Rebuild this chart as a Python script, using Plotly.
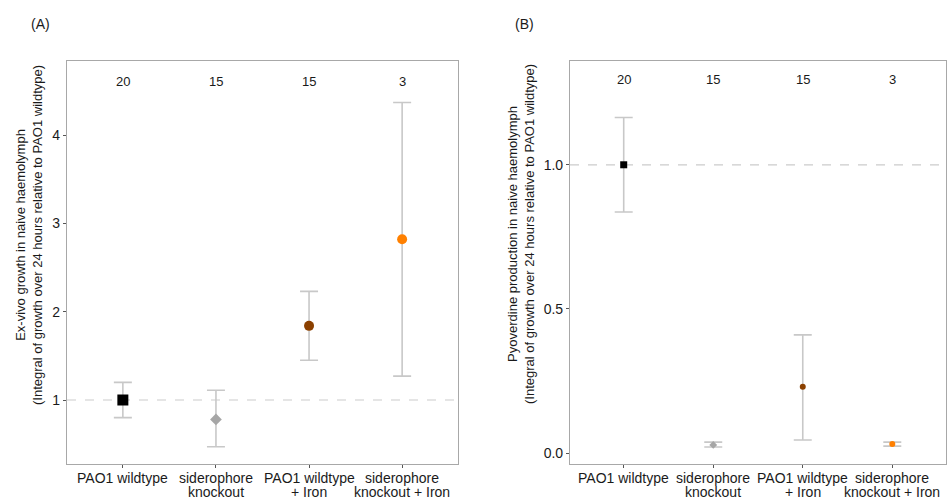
import plotly.graph_objects as go

# ---------------- data ----------------
categories = ["PAO1 wildtype", "siderophore<br>knockout", "PAO1 wildtype<br>+ Iron", "siderophore<br>knockout + Iron"]
counts = ["20", "15", "15", "3"]

growth_mean = [1.00, 0.78, 1.84, 2.82]
growth_low = [0.80, 0.47, 1.45, 1.27]
growth_high = [1.20, 1.11, 2.23, 4.37]

pyo_mean = [1.00, 0.028, 0.23, 0.031]
pyo_low = [0.836, 0.021, 0.045, 0.024]
pyo_high = [1.164, 0.038, 0.41, 0.038]

colors = ["#000000", "#a6a6a6", "#8b4000", "#ff8000"]
symbols = ["square", "diamond", "circle", "circle"]
sizes_a = [11, 9, 10, 10]
sizes_b = [7, 6, 6, 6]

W, H = 948, 498
FONT = "Liberation Sans, Arial, sans-serif"
ERR_COLOR = "#c8c8c8"

fig = go.Figure()

def add_panel(fig, means, lows, highs, sizes, xa, ya):
    for i in range(len(categories)):
        fig.add_trace(go.Scatter(
            x=[i], y=[means[i]], mode="markers",
            marker=dict(color=colors[i], symbol=symbols[i], size=sizes[i], line=dict(width=0)),
            error_y=dict(type="data", symmetric=False,
                         array=[highs[i] - means[i]], arrayminus=[means[i] - lows[i]],
                         color=ERR_COLOR, thickness=1.6, width=9),
            xaxis=xa, yaxis=ya, showlegend=False, hoverinfo="y"))

add_panel(fig, growth_mean, growth_low, growth_high, sizes_a, "x", "y")
add_panel(fig, pyo_mean, pyo_low, pyo_high, sizes_b, "x2", "y2")

# pixel geometry
a_left, a_right = 67, 458
b_left, b_right = 570, 946
top, bottom = 61, 464

def px(x):
    return x / W

def py(y):
    return (H - y) / H

axis_common = dict(showline=True, linecolor="#a8a8a8", linewidth=1.2, mirror=True,
                   showgrid=False, zeroline=False, ticks="outside", ticklen=3,
                   tickcolor="#555555", tickwidth=1, automargin=False, tickangle=0,
                   tickfont=dict(family=FONT, size=14, color="#1a1a1a"))

fig.update_layout(
    width=W, height=H, margin=dict(l=0, r=0, t=0, b=0),
    plot_bgcolor="white", paper_bgcolor="white",
    font=dict(family=FONT, color="#1a1a1a"),
    xaxis=dict(domain=[px(a_left), px(a_right)], range=[-0.6, 3.6], showticklabels=False,
               tickvals=[0, 1, 2, 3], anchor="y", **axis_common),
    yaxis=dict(domain=[py(bottom), py(top)], range=[0.275, 4.84],
               tickvals=[1, 2, 3, 4], ticktext=["1", "2", "3", "4"], anchor="x", **axis_common),
    xaxis2=dict(domain=[px(b_left), px(b_right)], range=[-0.6, 3.6], showticklabels=False,
                tickvals=[0, 1, 2, 3], anchor="y2", **axis_common),
    yaxis2=dict(domain=[py(bottom), py(top)], range=[-0.038, 1.36],
                tickvals=[0, 0.5, 1.0], ticktext=["0.0", "0.5", "1.0"], anchor="x2", **axis_common),
)

# x tick labels (tight line spacing as in the reference)
for xa in ["x", "x2"]:
    for i, cat in enumerate(categories):
        for j, line in enumerate(cat.split("<br>")):
            fig.add_annotation(x=i, y=py(478 + 14 * j), xref=xa, yref="paper", text=line,
                               showarrow=False, xanchor="center", yanchor="middle",
                               font=dict(family=FONT, size=14, color="#1a1a1a"))

# dashed reference lines
fig.add_shape(type="line", xref="x domain", yref="y", x0=0, x1=1, y0=1, y1=1,
              line=dict(color="#cccccc", width=1.2, dash="dash"), layer="below")
fig.add_shape(type="line", xref="x2 domain", yref="y2", x0=0, x1=1, y0=1, y1=1,
              line=dict(color="#cccccc", width=1.2, dash="dash"), layer="below")

# counts
for i, c in enumerate(counts):
    fig.add_annotation(x=i, y=4.61, xref="x", yref="y", text=c, showarrow=False,
                       font=dict(family=FONT, size=13, color="#1a1a1a"))
    fig.add_annotation(x=i, y=1.296, xref="x2", yref="y2", text=c, showarrow=False,
                       font=dict(family=FONT, size=13, color="#1a1a1a"))

# axis titles
fig.add_annotation(x=px(29), y=py(235), xref="paper", yref="paper", showarrow=False,
                   textangle=-90, xanchor="center", yanchor="middle",
                   text="Ex-vivo growth in naive haemolymph<br>(Integral of growth over 24 hours relative to PAO1 wildtype)",
                   font=dict(family=FONT, size=13, color="#1a1a1a"))
fig.add_annotation(x=px(521), y=py(234), xref="paper", yref="paper", showarrow=False,
                   textangle=-90, xanchor="center", yanchor="middle",
                   text="Pyoverdine production in naive haemolymph<br>(Integral of growth over 24 hours relative to PAO1 wildtype)",
                   font=dict(family=FONT, size=13, color="#1a1a1a"))

# panel labels
fig.add_annotation(x=px(40), y=py(24), xref="paper", yref="paper", showarrow=False,
                   text="(A)", xanchor="center", yanchor="middle",
                   font=dict(family=FONT, size=14, color="#1a1a1a"))
fig.add_annotation(x=px(524), y=py(24), xref="paper", yref="paper", showarrow=False,
                   text="(B)", xanchor="center", yanchor="middle",
                   font=dict(family=FONT, size=14, color="#1a1a1a"))

fig.write_html("out.html", config={"displayModeBar": False},
               post_script="document.body.style.margin='0';document.body.style.overflow='hidden';")
